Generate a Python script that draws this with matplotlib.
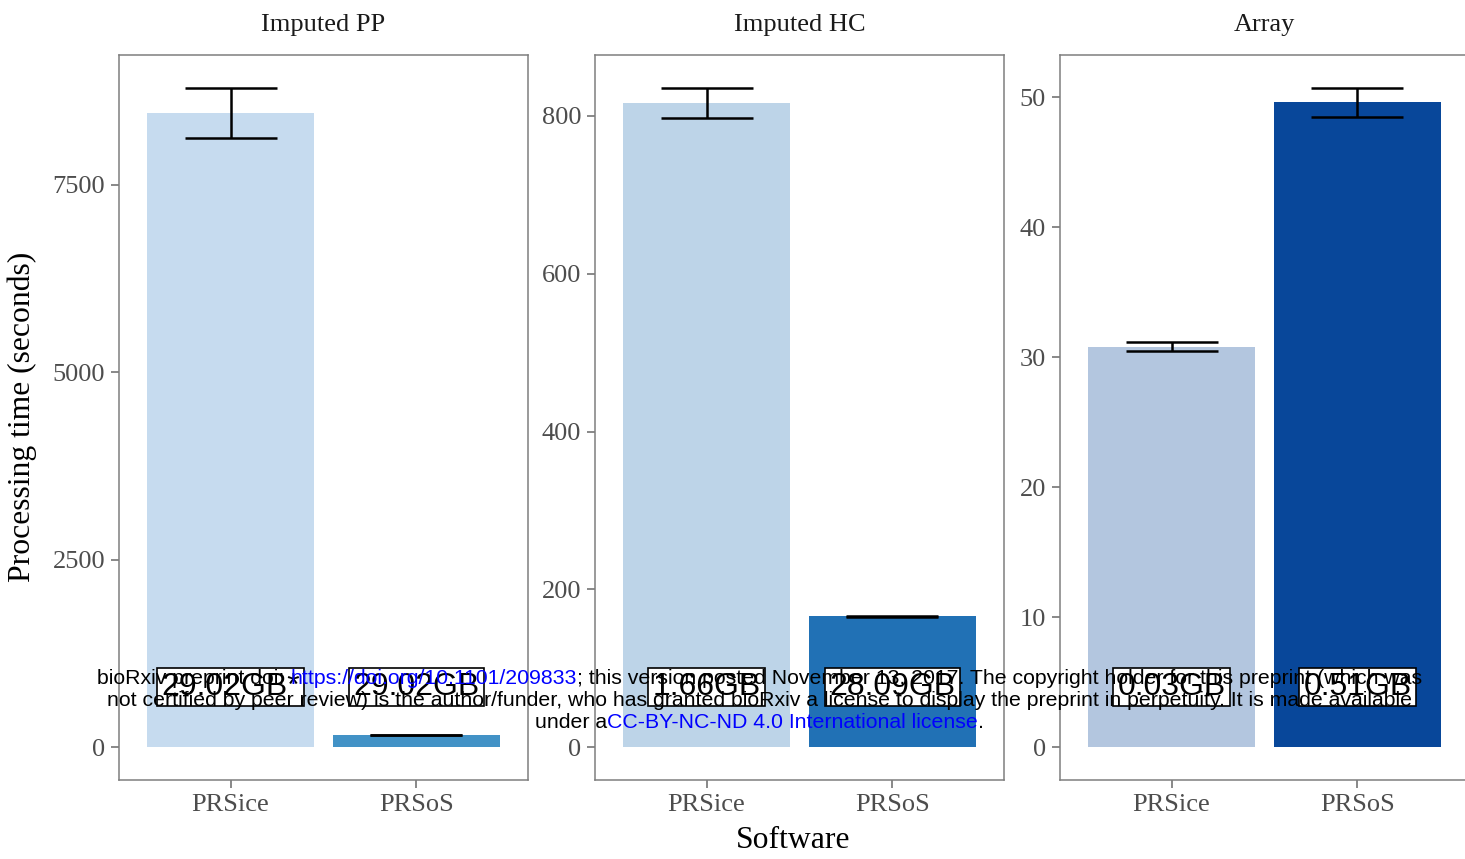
import matplotlib
matplotlib.use('Agg')
import matplotlib.pyplot as plt
import numpy as np

# data
panels = ['Imputed PP', 'Imputed HC', 'Array']
software = ['PRSice', 'PRSoS']
time_mean = [[8459, 160], [816.5, 165.5], [30.8, 49.6]]
time_sd = [[333, 3], [19, 1.2], [0.35, 1.1]]
mem_labels = [['29.02GB*', '29.02GB'], ['1.66GB', '28.09GB'], ['0.03GB', '0.51GB']]
y_ticks = [[0, 2500, 5000, 7500], [0, 200, 400, 600, 800], [0, 10, 20, 30, 40, 50]]
bar_colors = [['#c6dbef', '#4292c6'], ['#bdd4e8', '#2171b5'], ['#b3c6df', '#08479a']]

serif = 'Liberation Serif'
sans = 'Liberation Sans'
grey = '#7f7f7f'

fig = plt.figure(figsize=(14.65, 8.59), dpi=100)
W, H = 1465, 859
lefts = [119, 595, 1060]
pw, top, bot = 409, 55, 780

for i in range(3):
    ax = fig.add_axes([lefts[i] / W, (H - bot) / H, pw / W, (bot - top) / H])
    x = np.arange(1, 3)
    m = np.array(time_mean[i])
    s = np.array(time_sd[i])
    ax.bar(x, m, width=0.9, color=bar_colors[i], zorder=2)
    ax.errorbar(x, m, yerr=s, fmt='none', ecolor='black', elinewidth=1.8,
                capsize=33, capthick=1.8, zorder=3)
    ymax = (m + s).max()
    ax.set_ylim(-0.05 * ymax, ymax * 1.05)
    ax.set_xlim(0.4, 2.6)
    ax.set_xticks(x)
    ax.set_xticklabels(software)
    ax.set_yticks(y_ticks[i])
    for sp in ax.spines.values():
        sp.set_color(grey)
        sp.set_linewidth(1.1)
    ax.tick_params(colors=grey, width=1.3, length=6, pad=4, labelsize=19,
                   labelcolor='#4d4d4d')
    for lab in ax.get_xticklabels() + ax.get_yticklabels():
        lab.set_fontfamily(serif)
    ax.set_title(panels[i], fontfamily=serif, fontsize=19, color='#1a1a1a', pad=17.5)
    for j in range(2):
        ax.text(x[j], 0.128, mem_labels[i][j], transform=ax.get_xaxis_transform(),
                ha='center', va='center', fontfamily=sans, fontsize=23, zorder=5,
                bbox=dict(boxstyle='square,pad=0.13', fc='white', ec='black', lw=1.2))

fig.text(22 / W, 1 - 417 / H, 'Processing time (seconds)', rotation=90,
         ha='center', va='center', fontfamily=serif, fontsize=22.8)
fig.text(793 / W, 1 - 840 / H, 'Software', ha='center', va='center',
         fontfamily=serif, fontsize=22.8)

# bioRxiv watermark
wm_lines = [
    [('bioRxiv preprint doi: ', 'black'), ('https://doi.org/10.1101/209833', 'blue'),
     ('; this version posted November 13, 2017. The copyright holder for this preprint (which was', 'black')],
    [('not certified by peer review) is the author/funder, who has granted bioRxiv a license to display the preprint in perpetuity. It is made available', 'black')],
    [('under a', 'black'), ('CC-BY-NC-ND 4.0 International license', 'blue'), ('.', 'black')],
]
wm_y = [679, 700, 722]
renderer = fig.canvas.get_renderer()
for line, yy in zip(wm_lines, wm_y):
    pieces = []
    for txt, col in line:
        t = fig.text(0, 1 - yy / H, txt, color=col, fontfamily=sans, fontsize=15.35,
                     ha='left', va='center', zorder=10)
        pieces.append(t)
    widths = [p.get_window_extent(renderer).width for p in pieces]
    xpos = 759.5 - sum(widths) / 2
    for p, w in zip(pieces, widths):
        p.set_x(xpos / W)
        xpos += w

fig.savefig('out.png', dpi=100)
